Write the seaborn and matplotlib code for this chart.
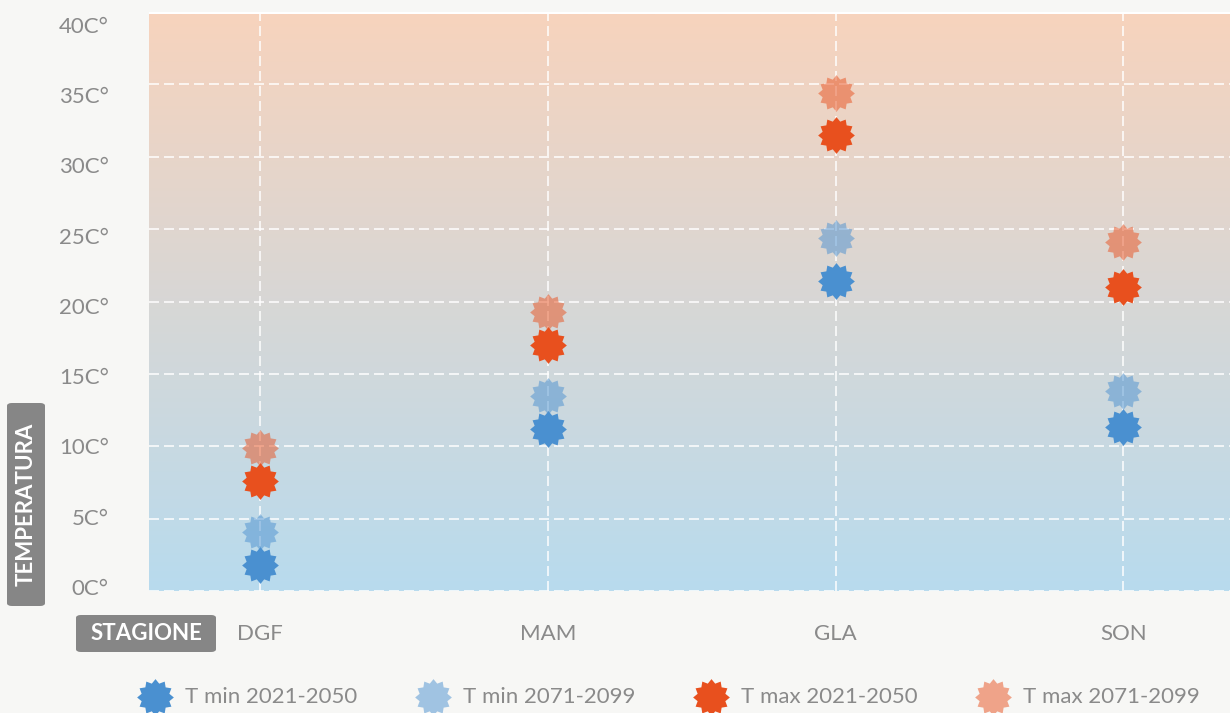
import numpy as np
import pandas as pd
import matplotlib
matplotlib.use("Agg")
import matplotlib.pyplot as plt
import matplotlib.transforms as mtransforms
from matplotlib.path import Path
from matplotlib.patches import FancyBboxPatch
from matplotlib.colors import LinearSegmentedColormap
import seaborn as sns

# ---- data ----
seasons = ["DGF", "MAM", "GLA", "SON"]
tmin_2021_2050 = [1.8, 11.2, 21.4, 11.3]
tmin_2071_2099 = [4.1, 13.5, 24.4, 13.8]
tmax_2021_2050 = [7.6, 17.0, 31.5, 21.0]
tmax_2071_2099 = [9.9, 19.3, 34.4, 24.1]
series_names = ["T min 2021-2050", "T min 2071-2099", "T max 2021-2050", "T max 2071-2099"]
y_ticks = [0, 5, 10, 15, 20, 25, 30, 35, 40]
y_tick_labels = ["0C°", "5C°", "10C°", "15C°", "20C°", "25C°", "30C°", "35C°", "40C°"]

series_values = [tmin_2021_2050, tmin_2071_2099, tmax_2021_2050, tmax_2071_2099]
series_colors = ["#4a90d0", "#4a90d0", "#e8501e", "#e8501e"]
series_alpha = [1.0, 0.5, 1.0, 0.5]

df = pd.concat(
    [pd.DataFrame({"stagione": seasons, "temp": vals, "serie": name})
     for name, vals in zip(series_names, series_values)],
    ignore_index=True)

sns.set_theme(style="white")
plt.rcParams["font.family"] = ["Lato", "DejaVu Sans"]

# 12-pointed star marker
n = 12
ang = np.pi / 2 + np.arange(2 * n) * np.pi / n
rad = np.where(np.arange(2 * n) % 2 == 0, 1.0, 0.78)
verts = np.column_stack([rad * np.cos(ang), rad * np.sin(ang)])
verts = np.vstack([verts, verts[:1]])
codes = [Path.MOVETO] + [Path.LINETO] * (2 * n - 1) + [Path.CLOSEPOLY]
star = Path(verts, codes)

W, H = 1230, 713
fig = plt.figure(figsize=(W / 100, H / 100), dpi=100)
fig.patch.set_facecolor("#f7f7f5")
ax = fig.add_axes([149 / W, 1 - 591 / H, 1 - 149 / W, (591 - 12) / H])

# gradient background
cmap = LinearSegmentedColormap.from_list("bg", ["#b8dbee", "#f7d3bd"])
grad = np.linspace(0, 1, 256).reshape(-1, 1)
ax.imshow(grad, cmap=cmap, aspect="auto", origin="lower",
          extent=[0, 1, 0, 0.995], transform=ax.transAxes, zorder=0)

for name, col, a in zip(series_names, series_colors, series_alpha):
    sub = df[df["serie"] == name]
    sns.scatterplot(data=sub, x="stagione", y="temp", ax=ax, color=col, alpha=a,
                    marker=star, s=700, linewidth=0, label=name, zorder=3)

ax.set_xlim(-0.385, 3.37)
ax.set_ylim(0, 40)
ax.set_yticks(y_ticks)
ax.set_yticklabels(y_tick_labels)
ax.set_xlabel("")
ax.set_ylabel("")
for s in ax.spines.values():
    s.set_visible(False)
ax.grid(True, color="white", linestyle=(0, (6, 3)), linewidth=1.2, alpha=0.9, zorder=1)
ax.set_axisbelow(True)
ax.tick_params(axis="y", colors="#8a8a8a", labelsize=16, length=2, width=1.2, pad=27)
ax.tick_params(axis="y", which="major", color="white")
ax.tick_params(axis="x", colors="#8a8a8a", labelsize=16, length=10, width=1.2, pad=14)
ax.tick_params(axis="x", which="major", color="white")

# the reference's y labels drift slightly downward toward the top
for v, lab in zip(y_ticks, ax.get_yticklabels()):
    dy = (-4 + 17 * v / 40) / 100.0
    lab.set_transform(lab.get_transform() +
                      mtransforms.ScaledTranslation(0, -dy, fig.dpi_scale_trans))

ax.get_legend().remove()
handles, labels = ax.get_legend_handles_labels()
leg = fig.legend(handles, labels, loc="center", bbox_to_anchor=(666 / W, 1 - 697 / H),
                 ncol=4, frameon=False, fontsize=16, labelcolor="#8a8a8a",
                 handletextpad=0.35, columnspacing=2.4, markerscale=1.0)

# label boxes
def label_box(x0, y0, x1, y1, text, rot):
    bx = FancyBboxPatch((x0 / W, 1 - y1 / H), (x1 - x0) / W, (y1 - y0) / H,
                        boxstyle="round,pad=0,rounding_size=0.004",
                        transform=fig.transFigure, facecolor="#868686",
                        edgecolor="none", zorder=5)
    fig.patches.append(bx)
    fig.text((x0 + x1) / 2 / W, 1 - (y0 + y1) / 2 / H, text, rotation=rot,
             ha="center", va="center", color="white", fontsize=16,
             fontweight="bold", zorder=6)

label_box(7, 403, 45, 606, "TEMPERATURA", 90)
label_box(76, 615, 216, 652, "STAGIONE", 0)

fig.savefig("out.png", dpi=100, facecolor=fig.get_facecolor())
